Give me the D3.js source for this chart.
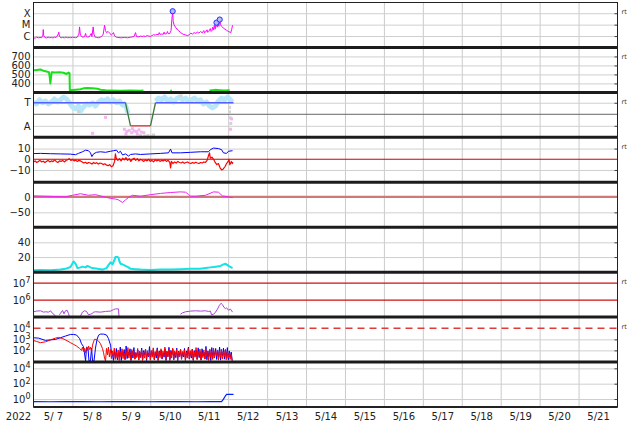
<!DOCTYPE html>
<html><head><meta charset="utf-8">
<script src="https://cdn.jsdelivr.net/npm/d3@7"></script>
<style>body{margin:0;background:#fff}svg{display:block;font-family:"DejaVu Sans",sans-serif}</style>
</head><body><script>
// ---------------- DATA (hours since 2022-05-07 00:00 UT, value) ----------------
const yearLabel = "2022";
const dayLabels = ["5/ 7","5/ 8","5/ 9","5/10","5/11","5/12","5/13","5/14","5/15","5/16","5/17","5/18","5/19","5/20","5/21"];

const xrayTickValues = [1e-4, 1e-5, 1e-6];
const xrayTickLabels = ["X", "M", "C"];
const xray = [[0,7e-7],[1,6.5e-7],[2,8e-7],[3,7e-7],[4,7.5e-7],[5,7e-7],[5.8,1.2e-6],[6.0,3.7e-6],[6.3,1.1e-6],[7,7.5e-7],[8,6.8e-7],[9,8e-7],[10,7e-7],[11,7.5e-7],[12,6.8e-7],[13,8e-7],[14,7.5e-7],[15.3,1.5e-6],[15.6,2.2e-6],[16,9e-7],[17,7e-7],[18,7.5e-7],[19,7e-7],[20,8e-7],[21,7e-7],[22,7.5e-7],[23,7e-7],[24,8e-7],[25,7.5e-7],[26,7e-7],[27,8e-7],[28,1.5e-6],[28.4,6.3e-6],[28.8,1.5e-6],[29.5,9e-7],[30.5,8e-7],[31.5,9e-7],[32.1,1.7e-6],[32.6,9e-7],[33.5,8e-7],[34.5,9e-7],[35.6,1.7e-6],[36,9e-7],[36.8,6.3e-6],[37.2,1.5e-6],[38,8e-7],[39,7.5e-7],[40,7e-7],[41,8e-7],[42,9e-7],[43,1.5e-6],[43.8,8.9e-6],[44.4,3e-6],[45,2e-6],[46,2.5e-6],[47,1.8e-6],[48,1.2e-6],[48.7,1.5e-6],[49.3,2e-6],[50,1e-6],[51,8e-7],[52,7.5e-7],[54,7e-7],[56,7.5e-7],[58,7e-7],[60,8e-7],[62,9e-7],[62.9,2e-6],[63.5,9e-7],[65,8.5e-7],[66,1e-6],[67,9e-7],[68,1e-6],[69,9e-7],[70,1.1e-6],[71,1e-6],[72,9e-7],[73,1.1e-6],[74,1.3e-6],[75,1.2e-6],[76,1.4e-6],[77,1.3e-6],[77.5,2e-6],[78,1.4e-6],[79,1.5e-6],[80,1.4e-6],[80.5,2.2e-6],[81,1.5e-6],[82,1.6e-6],[82.6,2.5e-6],[83,1.6e-6],[84,1.7e-6],[84.8,3e-6],[85.3,3e-5],[85.8,1.5e-4],[86.1,2e-5],[86.6,1e-5],[87.5,6e-6],[88.5,4e-6],[89.5,3e-6],[90.6,2e-6],[92,1.5e-6],[94,1.2e-6],[95,1.1e-6],[96,1.3e-6],[97,1.8e-6],[98,1.5e-6],[99,2e-6],[100,1.7e-6],[101,2.2e-6],[102,1.8e-6],[103,2.5e-6],[104,1.9e-6],[105,3e-6],[105.5,1.9e-6],[106,2.2e-6],[107,3.5e-6],[107.5,2.1e-6],[108,2.5e-6],[109,4.5e-6],[109.5,2.5e-6],[110,3e-6],[110.5,6e-6],[111,3.5e-6],[111.5,9e-6],[112,4e-6],[112.5,1.2e-5],[112.8,1.5e-5],[113.2,6e-6],[113.8,1e-5],[114.3,7e-6],[114.8,2.8e-5],[115.3,1e-5],[116,7e-6],[117,5e-6],[118,4e-6],[119,3.2e-6],[120,2.6e-6],[121,2.2e-6],[121.6,2e-6],[122.2,4e-6],[122.7,8.9e-6]];
const flares = [[85.8,1.5e-4],[112.8,1.5e-5],[114.8,2.8e-5]];

const speedTicks = [700, 600, 500, 400];
const speed = [[0,545],[1.8,550],[4.3,555],[6.2,540],[7.4,535],[8.6,530],[9.5,525],[10,470],[10.4,400],[10.8,470],[11.2,525],[13.6,520],[16,524],[18.5,518],[20.3,505],[21.6,520],[22.2,515],[22.4,320],[22.8,325],[25.9,330],[29,335],[30.8,345],[33.3,350],[36.4,345],[39.5,340],[41.3,330],[44.4,325],[47.5,322],[53.6,318],[59.8,320],[66,318],[67.8,320],[null,null],[84.3,318],[85.3,320],[null,null],[108.5,322],[110,325],[112,328],[115,325],[118,320],[120,325],[121,322]];

const sectorTickValues = [1, -1];
const sectorTickLabels = ["T", "A"];
const sectorModel = [[0,1],[56.7,1],[59.8,-1],[72.1,-1],[75.2,1],[123.3,1]];
const imfAngle = [[0,1.07],[1.8,0.9],[3.7,1.25],[5.5,1.0],[7.4,1.15],[9.2,0.9],[11.1,1.07],[12.9,1.33],[14.8,1.07],[16.6,1.25],[18.5,1.5],[20.3,1.33],[22.2,1.0],[24,0.63],[25.9,0.46],[27.7,0.72],[29,0.29],[30.8,0.63],[32.7,0.9],[34.5,0.8],[36.4,1.0],[38.2,0.72],[40.1,1.07],[41.9,1.25],[43.8,1.15],[45.6,1.33],[47.5,1.07],[49.3,1.25],[51.2,1.0],[53,1.15],[54.9,0.8],[56.1,0.9],[57.3,0.55],[58.3,0.1],[null,null],[75.2,1.15],[77.1,1.4],[78.9,1.25],[80.8,1.5],[82.6,1.15],[84.5,1.33],[86.3,1.07],[88.1,1.33],[90,1.5],[91.8,1.25],[93.7,1.4],[95.5,1.15],[97.4,1.25],[99.2,1.4],[101.1,1.15],[102.9,1.25],[104.8,0.9],[106.6,1.07],[108.5,0.72],[110.3,0.55],[112.2,0.72],[114,1.15],[115.9,1.4],[117.7,1.25],[119.6,1.5],[121.4,1.25],[122.7,1.07]];
const pinkDots = [[36.4,-1.65],[44.4,-0.27],[56,-1.3],[57.5,-1.5],[59,-1.4],[60.5,-1.6],[62,-1.45],[63.5,-1.5],[65,-1.35],[66.5,-1.55],[68,-1.6],[57,-1.7],[61,-1.25],[64,-1.7],[121.4,-1.3],[122.1,-0.4]];
const greyDots = [[27.7,0.23],[66,-1.85],[68.5,-1.9],[70.5,-1.85],[72.5,-1.9],[74,-1.8],[91,1.6],[120.8,0.6],[120.8,0.2],[121.2,-0.3],[121.6,-0.8]];

const imfTicks = [10, 0, -10];
const bt = [[0,5.3],[4.3,5.5],[10.5,5.2],[16.6,5],[22.8,4.8],[25.9,4.3],[27.7,5.5],[30.2,7],[32.1,8.5],[33.9,8],[35.1,6],[36,2.5],[37,5],[38.8,6.5],[41.3,7],[44.4,6.5],[47.5,7.5],[49.3,8],[51.2,8.5],[52.4,6],[53.6,7.5],[54.9,4],[56.7,5],[58.6,3],[59.8,4.5],[62.9,5],[66,4.5],[72.1,5],[78.3,5.5],[83.2,6],[84.5,9.5],[85.4,6],[90.6,6],[96.8,6.5],[102.9,7],[107.9,7],[109.1,9],[111,10.5],[114,10],[115.9,9],[117.1,6],[119,5.5],[120.2,7.5],[122.7,8]];
const bz = [[0,-2.5],[1,-1.5],[2,-3],[3,-2],[4,-1],[5,-2.5],[6,-1.8],[7,-3],[8,-2],[9,-1],[10,-2.5],[11,-1.5],[12,-2.2],[13,-0.5],[14,-2],[15,-3],[16,-1.5],[17,-2],[18,-1],[19,-2.5],[20,-1.2],[21,-0.5],[22,0.5],[23,-1],[24,-0.3],[25,-1.5],[26,-0.8],[27,-2],[28,-1],[29,-1.5],[30,-2.5],[31,-3.5],[32,-2.8],[33,-4],[34,-3],[35,-3.5],[36,-4.5],[37,-3],[38,-4],[39,-3.2],[40,-4.5],[41,-3.5],[42,-4],[43,-5],[44,-4.2],[45,-5.5],[46,-6],[47,-5],[48,-7],[49,-6],[50,-2],[50.5,5],[51,1],[52,-1],[53,0.5],[54,-1.5],[55,1],[56,-0.5],[57,1.5],[58,-1],[59,0.5],[60,-2],[61,0],[62,1],[63,-1],[64,0.5],[65,-1.5],[66,0],[67,-1],[68,-2],[69,-0.5],[70,-1.5],[71,0],[72,-2],[73,-1],[74,-2.5],[75,-0.5],[76,-1.5],[77,-0.5],[78,-2],[79,-1],[80,-1.5],[81,-0.5],[82,-2],[83,-1],[84,-3],[84.5,-8],[85,-2],[86,-4],[87,-2.5],[88,-3.5],[89,-2],[90,-3],[91,-3.5],[92,-2.5],[93,-3.8],[94,-3],[95,-2.5],[96,-3.5],[97,-4],[98,-3],[99,-3.8],[100,-2.8],[101,-3.5],[102,-4],[103,-3],[104,-3.5],[105,-2.5],[106,-3],[107,-1],[108,4],[108.5,6],[109,1],[110,2],[111,0],[112,-3],[113,-5],[114,-4],[115,-8],[116,-10],[117,-9],[118,-7],[119,-4],[120,-2],[120.5,0],[121,-5],[122,-2],[122.5,-4],[123,-3]];

const dstTicks = [0, -50];
const dst = [[0,3],[7.4,2],[13.6,1],[19.7,0],[24,5],[29,10],[33.9,5],[38.2,7],[41.3,3],[44.4,-1],[47.5,-5],[50.5,-7],[52.4,-10],[54.9,-18],[56.7,-10],[58.6,-2],[61,5],[66,2],[72.1,7],[78.3,11],[84.5,14],[90.6,16],[93.7,15],[95.5,8],[96.8,2],[99.9,2],[106,5],[111,16],[114,15],[116.5,3],[120.2,0],[122.7,-3]];

const kpTicks = [40, 20];
const cyanSeries = [[0,2],[4.3,2.5],[10.5,2],[16.6,3],[19.7,4],[22.8,6.5],[24.7,14],[25.9,11],[27.1,5],[29,6],[30.2,7],[32.1,6],[33.3,8],[35.1,6],[36.4,5],[39.5,4],[42.5,3],[45,5],[46.2,9],[47.5,13],[48.7,10],[49.9,16],[50.5,20],[51.8,20],[52.4,19],[53,14],[53.6,11],[54.9,10],[56.7,8],[58.6,6],[59.8,4],[62.9,3.5],[66,3],[72.1,2.5],[78.3,3],[84.5,3],[90.6,3.5],[96.8,4],[102.9,4],[106,5],[109.1,6],[112.2,7],[115.3,8],[117.1,10],[118.4,11],[119.6,9],[120.2,8],[122.7,5]];

const electronTicks = [1e7, 1e6];
const electronThresholds = [1e7, 1e6];
const electrons = [[0,2.1e5],[1.8,2.3e5],[4.3,2.4e5],[6.2,2e5],[7.4,2.1e5],[9.2,2e5],[10.5,2.4e5],[11.7,1.7e5],[12.9,1.4e5],[13.6,1.1e5],[null,null],[16,1.4e5],[16.6,1.7e5],[17.9,2.5e5],[18.8,1.6e5],[19.7,2.4e5],[20.7,2.6e5],[21.6,1.6e5],[22.2,1.1e5],[null,null],[29,1.2e5],[30.2,2e5],[31.4,2.4e5],[32.7,2.2e5],[33.9,1.4e5],[35.1,1.5e5],[36.4,1.7e5],[37,2e5],[38.2,2.1e5],[41.3,2e5],[44.4,2.2e5],[47.5,2.3e5],[49.3,2.8e5],[50.5,3.1e5],[52.4,3.1e5],[52.7,1.1e5],[null,null],[64.7,1.1e5],[65.3,1.15e5],[null,null],[84.5,1.05e5],[85.1,1.1e5],[null,null],[90.6,1.5e5],[91.8,1.8e5],[93.7,2.1e5],[96.8,2.3e5],[99.9,2.4e5],[102.9,2.3e5],[106,2.4e5],[107.9,2.2e5],[109.1,2.3e5],[109.7,1.4e5],[111,1.5e5],[112.2,2e5],[113.4,3e5],[114.6,5e5],[115.6,6.6e5],[116.5,5.5e5],[117.4,3.8e5],[118.4,3.2e5],[119,3.6e5],[120.2,2.6e5],[121.4,3e5],[122.7,2e5]];

const protonTicks = [1e4, 1e3, 1e2];
const protonThreshold = 1e4;
const protonBlue = [[0,1400],[3.1,1300],[7.4,800],[10.5,900],[13.6,1000],[16.6,1400],[19.7,2000],[22.8,2800],[24.7,2800],[26.5,2500],[28.4,1200],[29.6,400],[30.8,220],[31.4,60],[32.1,11],[32.7,200],[33.6,150],[34.2,11],[35.1,11],[35.8,160],[36.4,11],[37.3,11],[38.2,160],[39.1,900],[40.1,2400],[41.3,3000],[43.2,3000],[45,2500],[46.2,1200],[47.5,300],[48.1,60],
[48.7,40],[49.3,12],[49.9,90],[50.5,20],[51.1,150],[51.7,14],[52.3,60],[52.9,25],[53.5,200],[54.1,12],[54.7,80],[55.3,30],[55.9,120],[56.5,15],[57.1,250],[57.7,18],[58.3,70],[58.9,35],[59.5,140],[60.1,12],[60.7,90],[61.3,20],[61.9,180],[62.5,16],[63.1,60],[63.7,28],[64.3,110],[64.9,13],[65.5,75],[66.1,22],[66.7,160],[67.3,15],[67.9,95],[68.5,40],[69.1,130],[69.7,12],[70.3,65],[70.9,26],[71.5,220],[72.1,17],[72.7,85],[73.3,30],[73.9,120],[74.5,14],[75.1,70],[75.7,20],[76.3,170],[76.9,13],[77.5,90],[78.1,35],[78.7,110],[79.3,16],[79.9,60],[80.5,24],[81.1,140],[81.7,12],[82.3,80],[82.9,28],[83.5,190],[84.1,15],[84.7,100],[85.3,40],[85.9,130],[86.5,14],[87.1,70],[87.7,22],[88.3,160],[88.9,12],[89.5,85],[90.1,30],[90.7,120],[91.3,17],[91.9,65],[92.5,25],[93.1,150],[93.7,13],[94.3,90],[94.9,35],[95.5,200],[96.1,16],[96.7,75],[97.3,20],[97.9,130],[98.5,12],[99.1,95],[99.7,28],[100.3,110],[100.9,15],[101.5,170],[102.1,22],[102.7,80],[103.3,13],[103.9,140],[104.5,30],[105.1,70],[105.7,17],[106.3,230],[106.9,14],[107.5,90],[108.1,26],[108.7,120],[109.3,12],[109.9,180],[110.5,20],[111.1,85],[111.7,35],[112.3,150],[112.9,15],[113.5,100],[114.1,24],[114.7,200],[115.3,13],[115.9,90],[116.5,30],[117.1,160],[117.7,16],[118.3,120],[118.9,22],[119.5,180],[120.1,14],[120.7,90],[121.3,25],[121.9,70],[122.5,12]];
const protonRed = [[0,800],[1.8,650],[4.3,500],[7.4,600],[10.5,900],[13.6,1300],[15.4,1500],[17.9,1200],[19.7,900],[22.8,500],[24.7,350],[26.5,250],[28.4,150],[29.6,100],[30.2,200],[30.8,80],[31.4,150],[32.1,60],[32.7,200],[33.3,100],[33.9,250],[34.5,120],[35.1,200],[35.8,80],[36.4,300],[37,600],[37.6,1000],[38.8,1000],[40.1,700],[41.3,400],[42.5,150],[43.2,60],[43.8,20],
[44.4,11],[45,150],[45.6,40],[46.2,200],[46.8,25],[47.4,120],[48,18],[48.6,90],[49.2,30],[49.8,160],[50.4,15],[51,70],[51.6,20],[52.2,110],[52.8,12],[53.4,80],[54,25],[54.6,140],[55.2,18],[55.8,60],[56.4,14],[57,100],[57.6,30],[58.2,180],[58.8,20],[59.4,75],[60,13],[60.6,120],[61.2,35],[61.8,90],[62.4,16],[63,65],[63.6,22],[64.2,150],[64.8,14],[65.4,85],[66,28],[66.6,110],[67.2,12],[67.8,70],[68.4,20],[69,130],[69.6,17],[70.2,95],[70.8,30],[71.4,60],[72,13],[72.6,100],[73.2,24],[73.8,170],[74.4,15],[75,80],[75.6,35],[76.2,120],[76.8,12],[77.4,75],[78,22],[78.6,140],[79.2,18],[79.8,90],[80.4,30],[81,200],[81.6,14],[82.2,85],[82.8,25],[83.4,110],[84,12],[84.6,70],[85.2,20],[85.8,160],[86.4,16],[87,90],[87.6,30],[88.2,120],[88.8,13],[89.4,75],[90,25],[90.6,130],[91.2,15],[91.8,80],[92.4,35],[93,110],[93.6,12],[94.2,65],[94.8,20],[95.4,150],[96,17],[96.6,95],[97.2,28],[97.8,120],[98.4,14],[99,80],[99.6,24],[100.2,180],[100.8,15],[101.4,90],[102,30],[102.6,130],[103.2,13],[103.8,70],[104.4,22],[105,110],[105.6,16],[106.2,140],[106.8,30],[107.4,85],[108,12],[108.6,120],[109.2,25],[109.8,95],[110.4,15],[111,160],[111.6,20],[112.2,75],[112.8,35],[113.4,110],[114,13],[114.6,85],[115.2,24],[115.8,130],[116.4,16],[117,70],[117.6,28],[118.2,100],[118.8,14],[119.4,80],[120,20],[120.6,60],[121.2,15],[121.8,45],[122.4,12],[122.7,11]];

const highTicks = [1e4, 1e2, 1e0];
const highEnergy = [[0,0.45],[10,0.44],[20,0.46],[30,0.45],[40,0.44],[50,0.45],[60,0.46],[70,0.44],[80,0.45],[90,0.45],[100,0.44],[110,0.45],[115.9,0.45],[117,0.9],[118,2],[119,4],[123.3,4]];

const rtPanels = [0, 1, 2, 3, 6, 7];

// ---------------- LAYOUT ----------------
const W = 634, H = 424, L = 33.5, R = 617.5;
const svg = d3.select("body").append("svg").attr("width", W).attr("height", H);
const t0 = Date.UTC(2022, 4, 7);
const hr = h => new Date(t0 + h * 3600e3);
const x = d3.scaleUtc().domain([new Date(t0), new Date(Date.UTC(2022, 4, 22))]).range([L, R]);
const panels = d3.scaleBand().domain(d3.range(9)).range([2.5, 407]);
const ph = panels.bandwidth();
const mk = (i, log, dom) => (log ? d3.scaleLog() : d3.scaleLinear()).domain(dom).range([panels(i) + ph, panels(i)]);

const ys = [
  mk(0, true, [1e-7, Math.pow(10, -3.06)]),
  mk(1, false, [300, 800]),
  mk(2, false, [-2, 1.9]),
  mk(3, false, [-21.5, 20.5]),
  mk(4, false, [-98, 47]),
  mk(5, false, [-0.5, 60.5]),
  mk(6, true, [Math.pow(10, 5.01), Math.pow(10, 7.64)]),
  mk(7, true, [Math.pow(10, 0.94), Math.pow(10, 5.02)]),
  mk(8, true, [Math.pow(10, -1.04), Math.pow(10, 4.82)])
];

const defs = svg.append("defs");
d3.range(9).forEach(i => defs.append("clipPath").attr("id", "c" + i).append("rect")
  .attr("x", L).attr("y", panels(i)).attr("width", R - L).attr("height", ph));

const dayGrid = d3.utcDay.range(new Date(Date.UTC(2022, 4, 8)), new Date(Date.UTC(2022, 4, 22)));

// vertical grid
d3.range(9).forEach(i => {
  const g = svg.append("g").attr("transform", `translate(0,${panels(i) + ph})`)
    .call(d3.axisBottom(x).tickValues(dayGrid).tickSize(-ph).tickFormat(""));
  g.select(".domain").remove();
  g.selectAll("line").attr("stroke", "#cbcbcb");
});

function hgrid(i, vals, color) {
  const g = svg.append("g").attr("transform", `translate(${L},0)`)
    .call(d3.axisLeft(ys[i]).tickValues(vals).tickSize(-(R - L)).tickFormat(""));
  g.select(".domain").remove();
  g.selectAll("line").attr("stroke", color || "#cfcfcf");
  const g2 = svg.append("g").attr("transform", `translate(${R},0)`)
    .call(d3.axisRight(ys[i]).tickValues(vals).tickSize(-3).tickFormat(""));
  g2.select(".domain").remove();
  g2.selectAll("line").attr("stroke", "#444");
}
function labels(i, vals, fmt, sup) {
  const g = svg.append("g").attr("transform", `translate(${L},0)`)
    .call(d3.axisLeft(ys[i]).tickValues(vals).tickSize(0).tickPadding(3).tickFormat(fmt));
  g.select(".domain").remove();
  g.selectAll("text").attr("font-size", 10).attr("fill", "#222").attr("font-family", "DejaVu Sans, sans-serif");
  if (sup) {
    g.selectAll("text").each(function (d) {
      const t = d3.select(this); t.text("");
      t.append("tspan").text("10");
      t.append("tspan").attr("dy", "-0.45em").attr("font-size", 8).text(Math.round(Math.log10(d)));
    });
  }
}
function hline(i, v, color, w, dash) {
  svg.append("line").attr("x1", L).attr("x2", R).attr("y1", ys[i](v)).attr("y2", ys[i](v))
    .attr("stroke", color).attr("stroke-width", w).attr("stroke-dasharray", dash || null);
}
function path(i, data, color, w, extra) {
  const ln = d3.line().defined(d => d[0] != null && d[1] != null).x(d => x(hr(d[0]))).y(d => ys[i](d[1]));
  const p = svg.append("path").datum(data).attr("clip-path", `url(#c${i})`).attr("d", ln)
    .attr("fill", "none").attr("stroke", color).attr("stroke-width", w).attr("stroke-linejoin", "round");
  if (extra) extra(p);
  return p;
}

// Panel 0: X-ray
hgrid(0, xrayTickValues);
labels(0, xrayTickValues, (d, k) => xrayTickLabels[k]);
path(0, xray, "#ff00ff", 1);
svg.append("g").selectAll("circle").data(flares).join("circle")
  .attr("cx", d => x(hr(d[0]))).attr("cy", d => ys[0](d[1])).attr("r", 2.6)
  .attr("fill", "#b8b8ff").attr("stroke", "#2030ff").attr("stroke-width", 1);

// Panel 1: speed
hgrid(1, speedTicks);
labels(1, speedTicks, d3.format("d"));
path(1, speed, "#18e018", 2);

// Panel 2: sector
hgrid(2, sectorTickValues);
hline(2, 0, "#666", 1);
labels(2, sectorTickValues, (d, k) => sectorTickLabels[k]);
path(2, imfAngle, "#b4e6fb", 5, p => p.attr("stroke-opacity", 0.95));
svg.append("g").selectAll("rect").data(greyDots).join("rect")
  .attr("x", d => x(hr(d[0])) - 1.5).attr("y", d => ys[2](d[1]) - 1.5).attr("width", 3).attr("height", 3).attr("fill", "#d4d4d4");
svg.append("g").selectAll("rect").data(pinkDots).join("rect")
  .attr("x", d => x(hr(d[0])) - 1.5).attr("y", d => ys[2](d[1]) - 1.5).attr("width", 3).attr("height", 3).attr("fill", "#f4b4f0");
const segs = d3.pairs(sectorModel);
svg.append("g").selectAll("line").data(segs).join("line")
  .attr("x1", d => x(hr(d[0][0]))).attr("x2", d => x(hr(d[1][0])))
  .attr("y1", d => ys[2](d[0][1])).attr("y2", d => ys[2](d[1][1]))
  .attr("stroke", d => d[0][1] !== d[1][1] ? "#3a7a3a" : (d[0][1] > 0 ? "#5560ff" : "#e83030"))
  .attr("stroke-width", 1.3);

// Panel 3: IMF
hgrid(3, [10, -10]);
hline(3, 0, "#cc0000", 1.2);
labels(3, imfTicks, d => d < 0 ? "\u2212" + Math.abs(d) : d);
path(3, bt, "#0000ff", 1);
path(3, bz, "#ff0000", 1.2);

// Panel 4: Dst
hgrid(4, [-50]);
hline(4, 0, "#d07878", 2.2);
labels(4, dstTicks, d => d < 0 ? "\u2212" + Math.abs(d) : d);
path(4, dst, "#ee22ee", 1);

// Panel 5
hgrid(5, kpTicks);
labels(5, kpTicks, d3.format("d"));
path(5, cyanSeries, "#10e4e4", 2);

// Panel 6: electrons
hgrid(6, []);
electronThresholds.forEach(v => hline(6, v, "#cc1010", 1.2));
labels(6, electronTicks, null, true);
path(6, electrons, "#a844d4", 1);

// Panel 7: protons
hgrid(7, [1e3, 1e2]);
hline(7, protonThreshold, "#e03a3a", 1.5, "7,5");
labels(7, protonTicks, null, true);
path(7, protonBlue, "#0000ff", 1);
path(7, protonRed, "#ff0000", 1);

// Panel 8
hgrid(8, highTicks);
labels(8, highTicks, null, true);
path(8, highEnergy, "#0022ff", 1.2);

// separators and frame
d3.range(1, 9).forEach(i => svg.append("line").attr("x1", L).attr("x2", R)
  .attr("y1", panels(i)).attr("y2", panels(i)).attr("stroke", "#1c1c1c").attr("stroke-width", 3));
svg.append("rect").attr("x", L).attr("y", panels(0)).attr("width", R - L).attr("height", 407 - panels(0))
  .attr("fill", "none").attr("stroke", "#222").attr("stroke-width", 1);
svg.append("line").attr("x1", L).attr("x2", R).attr("y1", 407).attr("y2", 407).attr("stroke", "#222").attr("stroke-width", 2);

// rt markers
svg.append("g").selectAll("text").data(rtPanels).join("text")
  .attr("x", 621.5).attr("y", i => panels(i) + 9.3).attr("dy", "0.35em")
  .attr("font-size", 6.5).attr("fill", "#333").text("rt");

// bottom axis labels at noon
const noon = d3.utcDay.range(new Date(t0), new Date(Date.UTC(2022, 4, 22))).map(d => d3.utcHour.offset(d, 12));
const bx = svg.append("g").attr("transform", "translate(0,407)")
  .call(d3.axisBottom(x).tickValues(noon).tickSize(0).tickPadding(6).tickFormat((d, k) => dayLabels[k]));
bx.select(".domain").remove();
bx.selectAll("text").attr("font-size", 10).attr("fill", "#222").attr("font-family", "DejaVu Sans, sans-serif").attr("xml:space", "preserve").style("white-space", "pre");
svg.append("text").attr("x", 18.5).attr("y", 420).attr("text-anchor", "middle").attr("font-size", 10).attr("fill", "#222").text(yearLabel);
</script></body></html>
